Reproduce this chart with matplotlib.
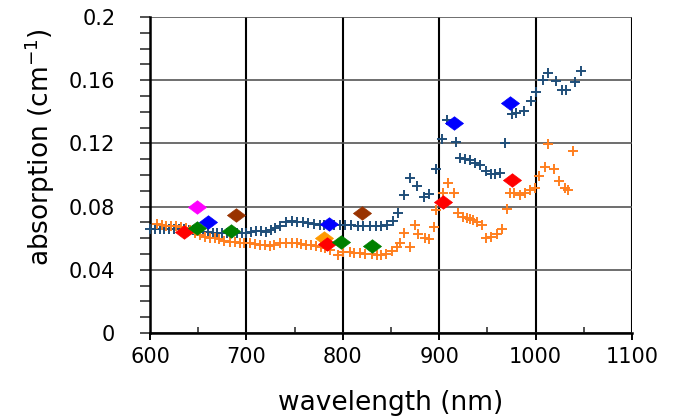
import matplotlib

matplotlib.use("Agg")
import matplotlib.pyplot as plt
from matplotlib.ticker import MultipleLocator

# spectrum 1 (dark blue crosses)
blue_nm = [600, 605, 610, 615, 620, 625, 630, 635, 640, 645, 650, 655, 660, 665,
           670, 675, 680, 685, 690, 695, 700, 705, 710, 715, 720, 725, 730, 735,
           741, 747, 752, 759, 764, 770, 776, 781, 786, 791, 797, 802, 809, 816,
           821, 828, 834, 840, 846, 852, 857, 864, 870, 877, 884, 889, 897, 903,
           908, 917, 922, 927, 932, 937, 942, 949, 954, 958, 963, 968, 975, 980,
           988, 995, 1000, 1008, 1013, 1021, 1027, 1032, 1041, 1047]
blue_abs = [0.066, 0.066, 0.066, 0.066, 0.066, 0.066, 0.066, 0.066, 0.0655, 0.065,
            0.0645, 0.064, 0.064, 0.0635, 0.0635, 0.063, 0.063, 0.063, 0.0635, 0.063,
            0.0635, 0.064, 0.0647, 0.0645, 0.0641, 0.0652, 0.0663, 0.068, 0.0705,
            0.0712, 0.0705, 0.070, 0.0696, 0.069, 0.0686, 0.0684, 0.0684, 0.0684,
            0.0684, 0.0684, 0.0682, 0.068, 0.068, 0.068, 0.068, 0.068, 0.0685,
            0.071, 0.076, 0.0875, 0.098, 0.093, 0.086, 0.088, 0.1036, 0.123, 0.1348,
            0.121, 0.1105, 0.110, 0.1095, 0.1078, 0.1065, 0.1025, 0.1008, 0.1006,
            0.1015, 0.120, 0.1386, 0.139, 0.1407, 0.147, 0.1527, 0.160, 0.1648,
            0.1595, 0.154, 0.154, 0.159, 0.166]

# spectrum 2 (orange crosses)
orange_nm = [607, 612, 617, 622, 627, 632, 637, 642, 647, 652, 657, 662, 667, 672,
             677, 683, 688, 693, 698, 704, 709, 714, 719, 724, 729, 735, 741, 747,
             752, 757, 762, 767, 772, 777, 782, 787, 795, 800, 807, 812, 818, 823,
             830, 835, 840, 845, 851, 856, 859, 864, 870, 875, 878, 885, 889, 895,
             897, 904, 909, 915, 920, 925, 929, 932, 935, 939, 944, 949, 954, 960,
             965, 970, 973, 978, 984, 989, 994, 999, 1004, 1010, 1013, 1019, 1024,
             1030, 1034, 1039]
orange_abs = [0.069, 0.0685, 0.068, 0.068, 0.0675, 0.067, 0.0665, 0.065, 0.0635,
              0.062, 0.061, 0.0603, 0.0599, 0.0593, 0.0584, 0.0578, 0.0578, 0.0572,
              0.057, 0.0568, 0.0563, 0.0557, 0.0557, 0.0553, 0.0557, 0.0568, 0.0572,
              0.0572, 0.0568, 0.0565, 0.056, 0.0557, 0.055, 0.0546, 0.0536, 0.0525,
              0.0494, 0.0515, 0.0515, 0.0508, 0.0504, 0.050, 0.050, 0.0494, 0.0494,
              0.050, 0.052, 0.0546, 0.0572, 0.0635, 0.0546, 0.0684, 0.0624, 0.060,
              0.0593, 0.067, 0.0778, 0.0884, 0.095, 0.0884, 0.0757, 0.0736, 0.0726,
              0.072, 0.0715, 0.0704, 0.0684, 0.060, 0.061, 0.0627, 0.0656, 0.0783,
              0.0888, 0.0884, 0.0873, 0.0888, 0.0905, 0.092, 0.0996, 0.105, 0.1196,
              0.104, 0.0962, 0.092, 0.0905, 0.1152]

# single measurements (diamonds)
diamond_nm = [649, 660, 689, 635, 649, 684, 786, 780, 784, 798, 820, 830, 904, 915, 973, 975]
diamond_abs = [0.080, 0.070, 0.0747, 0.0641, 0.0663, 0.0646, 0.069, 0.0603, 0.0561,
               0.0578, 0.0762, 0.055, 0.0831, 0.1331, 0.1458, 0.0968]
diamond_colors = ["#ff00ff", "#0000ff", "#993300", "#ff0000", "#008000", "#008000",
                  "#0000ff", "#ff9900", "#ff0000", "#008000", "#993300", "#008000",
                  "#ff0000", "#0000ff", "#0000ff", "#ff0000"]

x_ticks = [600, 700, 800, 900, 1000, 1100]
y_ticks = [0, 0.04, 0.08, 0.12, 0.16, 0.2]
y_tick_labels = ["0", "0.04", "0.08", "0.12", "0.16", "0.2"]

plt.rcParams["font.family"] = ["DejaVu Sans"]

fig = plt.figure(figsize=(6.77, 4.18), dpi=100)
ax = fig.add_axes([150 / 677, 85 / 418, 482 / 677, 316 / 418])

ax.plot(blue_nm, blue_abs, linestyle="none", marker="+", markersize=7,
        markeredgewidth=1.4, color="#1f4e79", zorder=3, clip_on=False)
ax.plot(orange_nm, orange_abs, linestyle="none", marker="+", markersize=7,
        markeredgewidth=1.4, color="#ff7f1f", zorder=3, clip_on=False)

diamond = [(-1, 0), (0, 0.75), (1, 0), (0, -0.75), (-1, 0)]
for nm, val, c in zip(diamond_nm, diamond_abs, diamond_colors):
    ax.plot([nm], [val], linestyle="none", marker=diamond, markersize=13,
            markerfacecolor=c, markeredgecolor=c, markeredgewidth=0.5, zorder=4)

ax.set_xlim(600, 1100)
ax.set_ylim(0, 0.2)
ax.set_xticks(x_ticks)
ax.set_yticks(y_ticks)
ax.set_yticklabels(y_tick_labels)
ax.xaxis.set_minor_locator(MultipleLocator(50))
ax.yaxis.set_minor_locator(MultipleLocator(0.01))

ax.tick_params(axis="x", which="major", direction="out", length=5, width=1.4,
               pad=5, labelsize=15, color="black")
ax.tick_params(axis="x", which="minor", direction="in", length=4, width=1.2,
               color="#333333")
ax.tick_params(axis="y", which="both", direction="out", length=7, width=1.2,
               pad=18, labelsize=15, color="#333333")

ax.grid(True, axis="x", which="major", color="black", linewidth=1.5)
ax.grid(True, axis="y", which="major", color="#555555", linewidth=1.2)
ax.set_axisbelow(True)

for side in ("top", "right"):
    ax.spines[side].set_visible(False)
for side in ("left", "bottom"):
    ax.spines[side].set_color("black")
    ax.spines[side].set_linewidth(1.8)

ax.set_xlabel("wavelength (nm)", fontsize=19, labelpad=17)
fig.text(40 / 677, 1 - 147 / 418, "absorption (cm$^{-1}$)", rotation=90,
         fontsize=19, ha="center", va="center")

fig.savefig("out.png", dpi=100)
